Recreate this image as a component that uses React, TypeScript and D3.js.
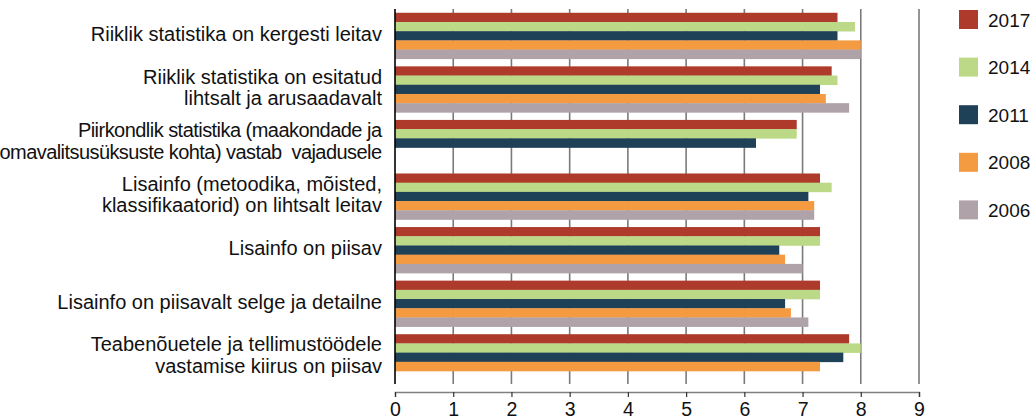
import { useEffect, useRef } from "react";
import * as d3 from "d3";

const categories = [
  ["Riiklik statistika on kergesti leitav"],
  ["Riiklik statistika on esitatud", "lihtsalt ja arusaadavalt"],
  ["Piirkondlik statistika (maakondade ja", "omavalitsusüksuste kohta) vastab  vajadusele"],
  ["Lisainfo (metoodika, mõisted,", "klassifikaatorid) on lihtsalt leitav"],
  ["Lisainfo on piisav"],
  ["Lisainfo on piisavalt selge ja detailne"],
  ["Teabenõuetele ja tellimustöödele", "vastamise kiirus on piisav"],
];
// the third label is set tighter in the original
const labelSqueeze = [1, 1, 0.94, 1, 1, 1, 1];

const years = ["2017", "2014", "2011", "2008", "2006"];
const colors = ["#ad3a2b", "#bbd986", "#1f4157", "#f49b42", "#b0a2a9"];

const v2017 = [7.6, 7.5, 6.9, 7.3, 7.3, 7.3, 7.8];
const v2014 = [7.9, 7.6, 6.9, 7.5, 7.3, 7.3, 8.0];
const v2011 = [7.6, 7.3, 6.2, 7.1, 6.6, 6.7, 7.7];
const v2008 = [8.0, 7.4, null, 7.2, 6.7, 6.8, 7.3];
const v2006 = [8.0, 7.8, null, 7.2, 7.0, 7.1, null];
const series = [v2017, v2014, v2011, v2008, v2006];

const xTicks = [0, 1, 2, 3, 4, 5, 6, 7, 8, 9];

const W = 1032;
const H = 419;
const FONT = "'Liberation Sans', Arial, sans-serif";

export default function App() {
  const axisRef = useRef<SVGGElement>(null);
  const labelsRef = useRef<SVGGElement>(null);

  const x = d3.scaleLinear().domain([0, 9]).range([395, 919]);
  const y0 = d3
    .scaleBand<number>()
    .domain(d3.range(categories.length))
    .range([9, 384]);
  const y1 = d3
    .scaleBand<string>()
    .domain(years)
    .range([0, y0.bandwidth()])
    .paddingOuter(0.41);

  useEffect(() => {
    if (!axisRef.current) return;
    const g = d3.select(axisRef.current);
    g.selectAll("*").remove();
    g.call(
      d3.axisBottom(x).tickValues(xTicks).tickSize(5).tickPadding(5).tickFormat(d3.format("d"))
    );
    g.select(".domain").attr("stroke", "#808080").attr("stroke-width", 1.5);
    g.selectAll(".tick line").attr("stroke", "#333").attr("stroke-width", 1.2);
    g.selectAll(".tick text")
      .attr("fill", "#111")
      .attr("font-size", 19.5)
      .attr("font-family", FONT);
  }, []);

  useEffect(() => {
    if (!labelsRef.current) return;
    d3.select(labelsRef.current)
      .selectAll<SVGTSpanElement, unknown>("tspan")
      .each(function () {
        const s = +(this.getAttribute("data-squeeze") || 1);
        if (s !== 1) {
          const len = this.getComputedTextLength();
          this.setAttribute("textLength", String(len * s));
          this.setAttribute("lengthAdjust", "spacing");
        }
      });
  }, []);

  return (
    <svg
      width={W}
      height={H}
      style={{ position: "absolute", left: 0, top: 0, display: "block", background: "#fff" }}
      fontFamily={FONT}
    >
      {/* grid */}
      {xTicks.slice(1).map((t) => (
        <line
          key={t}
          x1={x(t)}
          x2={x(t)}
          y1={9}
          y2={384}
          stroke="#7a7a7a"
          strokeWidth={1.6}
        />
      ))}

      {/* bars */}
      {categories.map((_, ci) =>
        series.map((vals, si) => {
          const v = vals[ci];
          if (v == null) return null;
          return (
            <rect
              key={`${ci}-${si}`}
              x={x(0)}
              y={(y0(ci) ?? 0) + (y1(years[si]) ?? 0)}
              width={x(v) - x(0)}
              height={y1.bandwidth() + 0.3}
              fill={colors[si]}
            />
          );
        })
      )}

      {/* zero line */}
      <line x1={x(0)} x2={x(0)} y1={9} y2={384} stroke="#000" strokeWidth={1.6} />

      {/* category labels */}
      <g ref={labelsRef}>
        {categories.map((lines, ci) => {
          const cy = (y0(ci) ?? 0) + y0.bandwidth() / 2 - 2;
          const lh = 21.5;
          const start = cy - ((lines.length - 1) * lh) / 2;
          return (
            <text
              key={ci}
              textAnchor="end"
              fontSize={20}
              fill="#111"
              dominantBaseline="central"
              style={{ whiteSpace: "pre" }}
            >
              {lines.map((l, li) => (
                <tspan key={li} x={382} y={start + li * lh} data-squeeze={labelSqueeze[ci]}>
                  {l}
                </tspan>
              ))}
            </text>
          );
        })}
      </g>

      {/* x axis */}
      <g ref={axisRef} transform="translate(0,392)" />

      {/* legend */}
      {years.map((yr, i) => (
        <g key={yr} transform={`translate(959,${10 + i * 47.6})`}>
          <rect width={19} height={19} fill={colors[i]} />
          <text x={29} y={10} fontSize={19} fill="#111" dominantBaseline="central">
            {yr}
          </text>
        </g>
      ))}
    </svg>
  );
}
